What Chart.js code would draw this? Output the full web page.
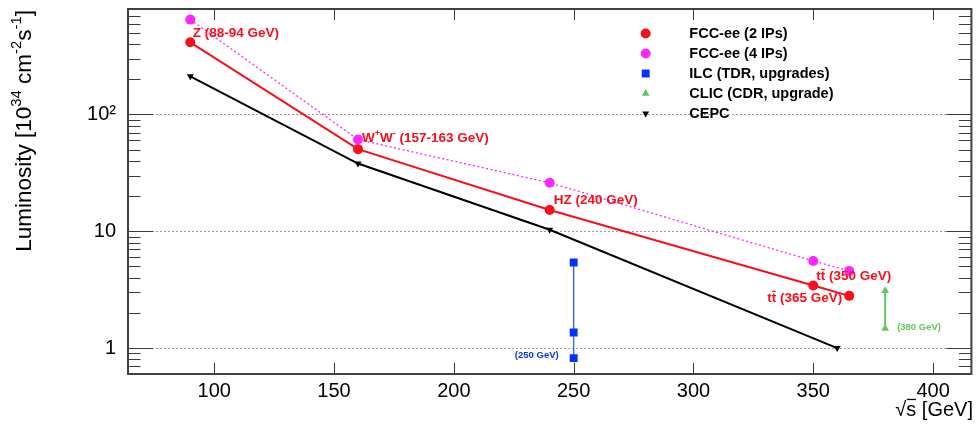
<!DOCTYPE html>
<html>
<head>
<meta charset="utf-8">
<script src="https://cdn.jsdelivr.net/npm/chart.js@4"></script>
<style>
  html, body { margin: 0; padding: 0; background: #fff; }
  #wrap { width: 977px; height: 429px; }
</style>
</head>
<body>
<div id="wrap"><canvas id="lumiChart" width="977" height="429"></canvas></div>
<script>
// ---- DATA ----
const fcc2Energy = [90, 160, 240, 350, 365];
const fcc2Lumi   = [415, 50.5, 15.2, 3.44, 2.8];
const fcc4Energy = [90, 160, 240, 350, 365];
const fcc4Lumi   = [649, 61, 26, 5.57, 4.58];
const ilcEnergy  = [250, 250, 250];
const ilcLumi    = [5.4, 1.36, 0.82];
const clicEnergy = [380, 380];
const clicLumi   = [3.1, 1.47];
const cepcEnergy = [90, 160, 240, 360];
const cepcLumi   = [212, 38, 10.3, 1.0];

const xTicks = [100, 150, 200, 250, 300, 350, 400];
const yMajor = [1, 10, 100];
const yLabels = ['1', '10', '10²'];
const legendLabels = ['FCC-ee (2 IPs)', 'FCC-ee (4 IPs)', 'ILC (TDR, upgrades)', 'CLIC (CDR, upgrade)', 'CEPC'];

// ---- STYLE ----
const FONT = '"Liberation Sans", Arial, Helvetica, sans-serif';
const RED = '#fc0d1b';
const MAGENTA = '#fc28fc';
const BLUE = '#0433ff';
const GREEN = '#5ec95e';
const BLACK = '#000000';

// minor ticks for the log axis: 2..9 per decade
const yTickValues = [];
[0.1, 1, 10, 100].forEach(d => {
  for (let k = 1; k <= 9; k++) {
    const v = +(d * k).toPrecision(3);
    if (v >= 0.6 && v <= 800) yTickValues.push(v);
  }
});

const pts = (xs, ys) => xs.map((x, i) => ({ x, y: ys[i] }));

// draws text made of runs: {t, sup, over}
function drawRuns(ctx, runs, x, y, size, weight, align) {
  const parts = runs.map(r => {
    const s = r.sup ? size * 0.66 : size;
    ctx.font = weight + ' ' + s + 'px ' + FONT;
    return { r, s, w: ctx.measureText(r.t).width };
  });
  const total = parts.reduce((a, p) => a + p.w, 0);
  let cx = align === 'right' ? x - total : (align === 'center' ? x - total / 2 : x);
  ctx.textAlign = 'left';
  ctx.textBaseline = 'middle';
  parts.forEach(p => {
    ctx.font = weight + ' ' + p.s + 'px ' + FONT;
    const yy = p.r.sup ? y - size * 0.36 : y;
    ctx.fillText(p.r.t, cx, yy);
    if (p.r.over) ctx.fillRect(cx + 0.5, y - size * 0.56, p.w - 1, 1.3);
    cx += p.w;
  });
}

// ---- PLUGINS ----
const frameAndTicks = {
  id: 'frameAndTicks',
  afterDatasetsDraw(chart) {
    const { ctx, chartArea: a, scales } = chart;
    ctx.save();
    ctx.strokeStyle = '#3a3a3a';
    ctx.lineWidth = 1;
    // x ticks, bottom and top, pointing inside
    xTicks.forEach(v => {
      const px = Math.round(scales.x.getPixelForValue(v)) + 0.5;
      ctx.beginPath();
      ctx.moveTo(px, a.bottom); ctx.lineTo(px, a.bottom - 11);
      ctx.moveTo(px, a.top); ctx.lineTo(px, a.top + 11);
      ctx.stroke();
    });
    // y ticks, left and right
    yTickValues.forEach(v => {
      const py = Math.round(scales.y.getPixelForValue(v)) + 0.5;
      const len = yMajor.includes(v) ? 25 : 12.5;
      ctx.beginPath();
      ctx.moveTo(a.left, py); ctx.lineTo(a.left + len, py);
      ctx.moveTo(a.right, py); ctx.lineTo(a.right - len, py);
      ctx.stroke();
    });
    // frame
    ctx.strokeStyle = '#404040';
    ctx.lineWidth = 2;
    ctx.strokeRect(a.left, a.top, a.right - a.left, a.bottom - a.top);
    ctx.restore();
  }
};

const notes = {
  id: 'notes',
  afterDatasetsDraw(chart) {
    const { ctx } = chart;
    const at = (ds, i) => chart.getDatasetMeta(ds).data[i];
    ctx.save();
    ctx.fillStyle = RED;
    let p = at(0, 0);
    drawRuns(ctx, [{ t: 'Z (88-94 GeV)' }], p.x + 2.5, p.y - 9, 13.5, 'bold', 'left');
    p = at(0, 1);
    drawRuns(ctx, [{ t: 'W' }, { t: '+', sup: true }, { t: 'W' }, { t: '-', sup: true }, { t: ' (157-163 GeV)' }],
      p.x + 4, p.y - 10.5, 13.5, 'bold', 'left');
    p = at(0, 2);
    drawRuns(ctx, [{ t: 'HZ (240 GeV)' }], p.x + 4, p.y - 10, 13.5, 'bold', 'left');
    p = at(0, 3);
    drawRuns(ctx, [{ t: 't' }, { t: 't', over: true }, { t: ' (350 GeV)' }], p.x + 3, p.y - 9, 13.5, 'bold', 'left');
    p = at(0, 4);
    drawRuns(ctx, [{ t: 't' }, { t: 't', over: true }, { t: ' (365 GeV)' }], p.x - 7, p.y + 2.5, 13.5, 'bold', 'right');
    ctx.fillStyle = BLUE;
    p = at(2, 2);
    drawRuns(ctx, [{ t: '(250 GeV)' }], p.x - 15, p.y - 3, 9.5, 'bold', 'right');
    ctx.fillStyle = GREEN;
    p = at(3, 1);
    drawRuns(ctx, [{ t: '(380 GeV)' }], p.x + 12, p.y - 1, 9.5, 'bold', 'left');
    ctx.restore();
  }
};

const legendBox = {
  id: 'legendBox',
  afterDatasetsDraw(chart) {
    const { ctx } = chart;
    ctx.save();
    chart.data.datasets.forEach((ds, i) => {
      const y = 33.5 + i * 20;
      ctx.fillStyle = ds.pointBackgroundColor;
      ctx.strokeStyle = ds.pointBackgroundColor;
      Chart.helpers.drawPoint(ctx, {
        pointStyle: ds.pointStyle,
        radius: ds.pointRadius,
        rotation: ds.pointRotation || 0,
        borderWidth: 0
      }, 645.7, y);
      ctx.fillStyle = '#000';
      drawRuns(ctx, [{ t: legendLabels[i] }], 689.3, y, 14.5, 'bold', 'left');
    });
    ctx.restore();
  }
};

const axisTitles = {
  id: 'axisTitles',
  afterDraw(chart) {
    const { ctx } = chart;
    ctx.save();
    ctx.fillStyle = '#000';
    ctx.translate(25, 10);
    ctx.rotate(-Math.PI / 2);
    drawRuns(ctx, [
      { t: 'Luminosity [10' }, { t: '34', sup: true }, { t: ' cm' }, { t: '-2', sup: true },
      { t: 's' }, { t: '-1', sup: true }, { t: ']' }
    ], 0, 0, 22.5, 'normal', 'right');
    ctx.restore();
    ctx.save();
    ctx.fillStyle = '#000';
    drawRuns(ctx, [{ t: '√' }, { t: 's', over: true }, { t: ' [GeV]' }], 973, 410, 20, 'normal', 'right');
    ctx.restore();
  }
};

// ---- CHART ----
new Chart(document.getElementById('lumiChart'), {
  type: 'scatter',
  data: {
    datasets: [
      {
        label: legendLabels[0],
        data: pts(fcc2Energy, fcc2Lumi),
        showLine: true,
        borderColor: RED,
        borderWidth: 2,
        pointStyle: 'circle',
        pointRadius: 5,
        pointBorderWidth: 0,
        pointBackgroundColor: RED
      },
      {
        label: legendLabels[1],
        data: pts(fcc4Energy, fcc4Lumi),
        showLine: true,
        borderColor: MAGENTA,
        borderWidth: 1.3,
        borderDash: [2, 2.5],
        pointStyle: 'circle',
        pointRadius: 5,
        pointBorderWidth: 0,
        pointBackgroundColor: MAGENTA
      },
      {
        label: legendLabels[2],
        data: pts(ilcEnergy, ilcLumi),
        showLine: true,
        borderColor: '#3a5cff',
        borderWidth: 1.3,
        pointStyle: 'rect',
        pointRadius: 5.6,
        pointBorderWidth: 0,
        pointBackgroundColor: BLUE
      },
      {
        label: legendLabels[3],
        data: pts(clicEnergy, clicLumi),
        showLine: true,
        borderColor: GREEN,
        borderWidth: 2,
        pointStyle: 'triangle',
        pointRadius: 4.5,
        pointBorderWidth: 0,
        pointBackgroundColor: GREEN
      },
      {
        label: legendLabels[4],
        data: pts(cepcEnergy, cepcLumi),
        showLine: true,
        borderColor: BLACK,
        borderWidth: 2,
        pointStyle: 'triangle',
        pointRotation: 180,
        pointRadius: 4,
        pointBorderWidth: 0,
        pointBackgroundColor: BLACK
      }
    ]
  },
  options: {
    responsive: false,
    animation: false,
    layout: { padding: { top: 9, right: 3, left: 0, bottom: 0 } },
    plugins: {
      legend: { display: false },
      tooltip: { enabled: false }
    },
    scales: {
      x: {
        type: 'linear',
        min: 64,
        max: 416,
        afterBuildTicks: s => { s.ticks = xTicks.map(v => ({ value: v })); },
        afterFit: s => { s.height = 55; s.paddingLeft = 0; s.paddingRight = 0; },
        grid: { display: false, drawTicks: false },
        border: { display: false },
        ticks: {
          color: '#000',
          font: { family: FONT, size: 20 },
          padding: 5,
          maxRotation: 0,
          autoSkip: false
        }
      },
      y: {
        type: 'logarithmic',
        min: 0.6,
        max: 800,
        afterBuildTicks: s => { s.ticks = yTickValues.map(v => ({ value: v })); },
        afterFit: s => { s.width = 128; s.paddingTop = 0; s.paddingBottom = 0; },
        grid: {
          drawTicks: false,
          lineWidth: 1,
          color: c => (c.tick && yMajor.includes(c.tick.value)) ? '#9c9c9c' : 'rgba(0,0,0,0)'
        },
        border: { display: false, dash: [2, 2] },
        ticks: {
          color: '#000',
          font: { family: FONT, size: 20 },
          padding: 12,
          autoSkip: false,
          callback: v => {
            const i = yMajor.indexOf(v);
            return i >= 0 ? yLabels[i] : '';
          }
        }
      }
    }
  },
  plugins: [frameAndTicks, notes, legendBox, axisTitles]
});
</script>
</body>
</html>
